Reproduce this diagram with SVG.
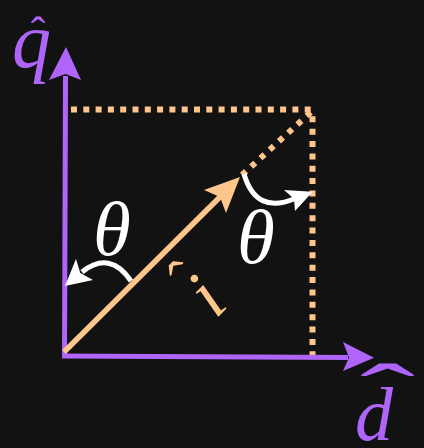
<svg xmlns="http://www.w3.org/2000/svg" width="424" height="448" viewBox="0 0 424 448">
<style>
.ax{stroke:#B065FA;stroke-width:5;fill:none}
.axh{fill:#B065FA}
.vec{stroke:#FFC68C;stroke-width:5.5;fill:none}
.vech{fill:#FFC68C}
.dot{stroke:#FFC68C;stroke-width:6;fill:none}
.arc{stroke:#FFFFFF;stroke-width:5;fill:none}
.arch{fill:#FFFFFF}
.lbl{font-family:"Liberation Serif","Times New Roman",serif;font-style:italic}
.hat{font-family:"Liberation Serif","Times New Roman",serif}
</style>
<rect width="424" height="448" fill="#121212"/>
<g id="connectors">
  <line class="dot" x1="71" y1="109.5" x2="316" y2="109.5" stroke-dasharray="6 6.3"/>
  <line class="dot" x1="312.5" y1="357.3" x2="312.5" y2="116" stroke-dasharray="6 6.37"/>
  <line class="dot" x1="242" y1="175" x2="311" y2="112" stroke-width="5.5" stroke-dasharray="5.5 7"/>
</g>
<g id="q-axis">
  <line class="ax" x1="64.5" y1="358" x2="65.5" y2="76"/>
  <polygon class="axh" points="66,47 81,80 65.5,74 49,80"/>
  <text class="lbl" x="12" y="67" font-size="78" fill="#B065FA">q</text>
  <text class="hat" x="38" y="47" font-size="44" text-anchor="middle" fill="#B065FA">ˆ</text>
</g>
<g id="d-axis">
  <line class="ax" x1="62" y1="356" x2="348" y2="357.5"/>
  <polygon class="axh" points="374,357.7 343,342 349,357.5 343,371"/>
  <text class="lbl" x="355" y="440" font-size="76" fill="#B065FA">d</text>
  <text class="hat" transform="translate(387.5,422) scale(2.75,1.4)" x="0" y="0" font-size="60" text-anchor="middle" fill="#B065FA">ˆ</text>
</g>
<g id="vector">
  <line class="vec" x1="64" y1="352" x2="224" y2="193"/>
  <polygon class="vech" points="240,177 226,213 220,197 204,190"/>
  <g transform="translate(215.5,319.5) rotate(-45)" fill="#FFC68C">
    <text class="lbl" x="0" y="0" font-size="72">i</text>
    <text class="hat" x="8" y="-31" font-size="58" text-anchor="middle">ˆ</text>
  </g>
</g>
<g id="angle-left">
  <path class="arc" d="M131,281 Q110,250 82,272"/>
  <polygon class="arch" points="65,286 76,259 80.3,273 93,280"/>
  <text class="lbl" x="93" y="255" font-size="77" fill="#FFFFFF">θ</text>
</g>
<g id="angle-right">
  <path class="arc" d="M244,174 Q256,215 295,198.5"/>
  <polygon class="arch" points="312.7,191.7 295,211 294,198.8 284,190"/>
  <text class="lbl" x="237" y="263" font-size="77" fill="#FFFFFF">θ</text>
</g>
</svg>
